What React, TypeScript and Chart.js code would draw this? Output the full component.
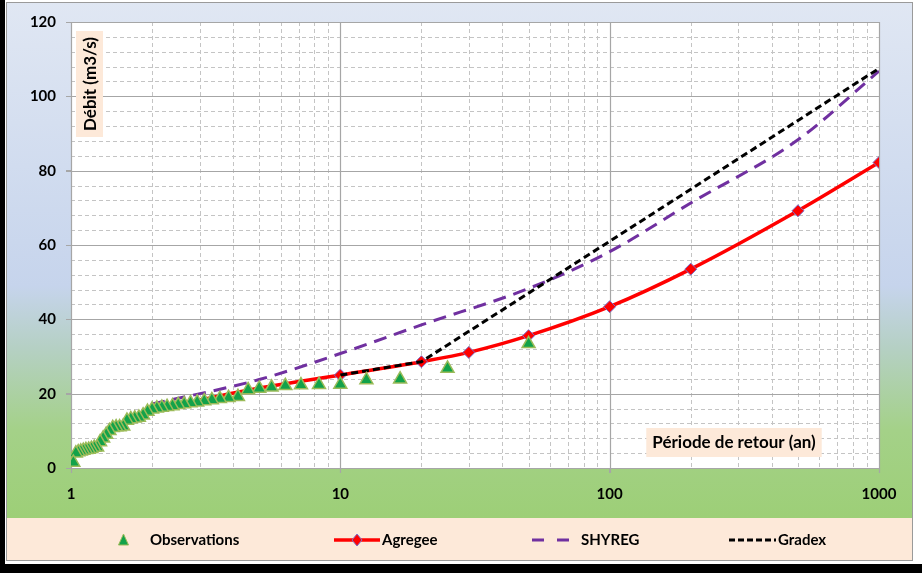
import React, { useEffect, useRef } from "react";
import { Chart, registerables } from "chart.js";

Chart.register(...registerables);

const FONT = "Lato, 'Open Sans', 'DejaVu Sans', sans-serif";

// Observations (return period in years, flow m3/s)
const obsPeriods = [50, 25, 16.667, 12.5, 10, 8.333, 7.143, 6.25, 5.556, 5, 4.545, 4.167, 3.846, 3.571, 3.333, 3.125, 2.941, 2.778, 2.632, 2.5, 2.381, 2.273, 2.174, 2.083, 2, 1.923, 1.852, 1.786, 1.724, 1.667, 1.613, 1.563, 1.515, 1.471, 1.429, 1.389, 1.351, 1.316, 1.282, 1.25, 1.22, 1.19, 1.163, 1.136, 1.111, 1.087, 1.064, 1.042, 1.02];
const obsFlows = [33.4, 26.8, 23.9, 23.7, 22.5, 22.4, 22.3, 22.1, 21.7, 21.4, 21.0, 19.2, 18.9, 18.6, 18.3, 18.0, 17.7, 17.5, 17.2, 17.0, 16.7, 16.5, 16.3, 16.1, 15.8, 15.2, 14.2, 13.6, 13.4, 13.2, 12.8, 11.2, 11.0, 11.0, 10.8, 10.0, 9.0, 8.0, 7.0, 5.6, 5.5, 5.2, 5.0, 4.9, 4.7, 4.5, 4.3, 4.0, 1.5];

const agregeePeriods = [3, 5, 10, 20, 30, 50, 100, 200, 500, 1000];
const agregeeFlows = [18.3, 21.5, 25.0, 28.6, 31.1, 35.6, 43.4, 53.5, 69.2, 82.2];
const agregeeMarkers = [false, false, true, true, true, true, true, true, true, true];

const shyregPeriods = [2, 5, 10, 20, 50, 100, 200, 500, 1000];
const shyregFlows = [17.2, 23.8, 30.8, 38.5, 48.3, 58.2, 71.3, 88.3, 106.8];

const gradexPeriods = [10, 20, 100, 1000];
const gradexFlows = [25.0, 28.6, 61.0, 107.5];

const xTickValues = [1, 10, 100, 1000];
const yTickValues = [0, 20, 40, 60, 80, 100, 120];
const yMinorStep = 4;

const legendLabels = ["Observations", "Agregee", "SHYREG", "Gradex"];
const yTitle = "Débit (m3/s)";
const xTitle = "Période de retour (an)";

const pts = (xs: number[], ys: number[]) => xs.map((x, i) => ({ x, y: ys[i] }));

const backgroundPlugin = {
  id: "bg",
  beforeDraw(chart: any) {
    const { ctx, width, height, chartArea } = chart;
    ctx.save();
    ctx.fillStyle = "#ffffff";
    ctx.fillRect(0, 0, width, height);
    const g = ctx.createLinearGradient(0, 2, 0, 518);
    g.addColorStop(0, "#e0e7f3");
    g.addColorStop(0.55, "#c6d4ec");
    g.addColorStop(0.67, "#b5d0c4");
    g.addColorStop(0.83, "#a4d188");
    g.addColorStop(1, "#9dcf77");
    ctx.fillStyle = g;
    ctx.fillRect(6, 2, 907, 516);
    ctx.fillStyle = "#fde9d9";
    ctx.fillRect(6, 518, 907, 43);
    ctx.strokeStyle = "#9a9a9a";
    ctx.lineWidth = 1;
    ctx.strokeRect(6.5, 2.5, 906, 558);
    ctx.fillStyle = "#000000";
    ctx.fillRect(0, 0, 5, height);
    ctx.fillRect(0, 564, width, height - 564);
    ctx.fillStyle = "#ffffff";
    ctx.fillRect(chartArea.left, chartArea.top, chartArea.right - chartArea.left, chartArea.bottom - chartArea.top);
    ctx.restore();
  },
  beforeDatasetsDraw(chart: any) {
    const { ctx, chartArea } = chart;
    const xs = chart.scales.x;
    const ys = chart.scales.y;
    ctx.save();
    ctx.lineWidth = 1;
    ctx.strokeStyle = "#c4c4c4";
    ctx.setLineDash([4, 3]);
    for (let d = 1; d < 1000; d *= 10) {
      for (let k = 2; k <= 9; k++) {
        const px = Math.round(xs.getPixelForValue(k * d)) + 0.5;
        ctx.beginPath();
        ctx.moveTo(px, chartArea.top);
        ctx.lineTo(px, chartArea.bottom);
        ctx.stroke();
      }
    }
    for (let v = ys.min; v <= ys.max; v += yMinorStep) {
      if (v % 20 === 0) continue;
      const py = Math.round(ys.getPixelForValue(v)) + 0.5;
      ctx.beginPath();
      ctx.moveTo(chartArea.left, py);
      ctx.lineTo(chartArea.right, py);
      ctx.stroke();
    }
    ctx.setLineDash([]);
    ctx.strokeStyle = "#a6a6a6";
    ctx.lineWidth = 1.2;
    xTickValues.forEach((v) => {
      const px = Math.round(xs.getPixelForValue(v)) + 0.5;
      ctx.beginPath();
      ctx.moveTo(px, chartArea.top);
      ctx.lineTo(px, chartArea.bottom + 5);
      ctx.stroke();
    });
    yTickValues.forEach((v) => {
      const py = Math.round(ys.getPixelForValue(v)) + 0.5;
      ctx.beginPath();
      ctx.moveTo(chartArea.left - 5, py);
      ctx.lineTo(chartArea.right, py);
      ctx.stroke();
    });
    ctx.font = `bold 17px ${FONT}`;
    ctx.textAlign = "center";
    ctx.textBaseline = "middle";
    const xw = ctx.measureText(xTitle).width + 12;
    const xcx = 734;
    const xcy = 442;
    ctx.fillStyle = "#fde9d9";
    ctx.fillRect(xcx - xw / 2, xcy - 14, xw, 29);
    ctx.fillStyle = "#000000";
    ctx.fillText(xTitle, xcx, xcy + 1);
    const yw = ctx.measureText(yTitle).width + 12;
    const ycx = 89.5;
    const ycy = 84;
    ctx.fillStyle = "#fde9d9";
    ctx.fillRect(ycx - 13.5, ycy - yw / 2, 27, yw);
    ctx.translate(ycx, ycy);
    ctx.rotate(-Math.PI / 2);
    ctx.fillStyle = "#000000";
    ctx.fillText(yTitle, 0, 1);
    ctx.restore();
  },
  afterDraw(chart: any) {
    const { ctx } = chart;
    const ds = chart.data.datasets;
    const cy = 540;
    ctx.save();
    ctx.font = `bold 15px ${FONT}`;
    ctx.textBaseline = "middle";
    ctx.textAlign = "left";
    const o = ds[0];
    ctx.fillStyle = o.pointBackgroundColor;
    ctx.strokeStyle = o.pointBorderColor;
    ctx.lineWidth = 1;
    ctx.beginPath();
    ctx.moveTo(123.5, cy - 6);
    ctx.lineTo(128.5, cy + 5);
    ctx.lineTo(118.5, cy + 5);
    ctx.closePath();
    ctx.fill();
    ctx.stroke();
    ctx.fillStyle = "#000";
    ctx.fillText(legendLabels[0], 150, cy);
    const a = ds[1];
    ctx.strokeStyle = a.borderColor;
    ctx.lineWidth = a.borderWidth;
    ctx.beginPath();
    ctx.moveTo(334, cy);
    ctx.lineTo(380, cy);
    ctx.stroke();
    ctx.fillStyle = a.pointBackgroundColor;
    ctx.strokeStyle = a.pointBorderColor;
    ctx.lineWidth = 1;
    ctx.beginPath();
    ctx.moveTo(357, cy - 6);
    ctx.lineTo(362, cy);
    ctx.lineTo(357, cy + 6);
    ctx.lineTo(352, cy);
    ctx.closePath();
    ctx.fill();
    ctx.stroke();
    ctx.fillStyle = "#000";
    ctx.fillText(legendLabels[1], 382, cy);
    const s = ds[2];
    ctx.strokeStyle = s.borderColor;
    ctx.lineWidth = s.borderWidth;
    ctx.beginPath();
    ctx.moveTo(532, cy);
    ctx.lineTo(544, cy);
    ctx.moveTo(557, cy);
    ctx.lineTo(569, cy);
    ctx.stroke();
    ctx.fillStyle = "#000";
    ctx.fillText(legendLabels[2], 581, cy);
    const gx = ds[3];
    ctx.strokeStyle = gx.borderColor;
    ctx.lineWidth = gx.borderWidth;
    ctx.setLineDash([6, 3]);
    ctx.beginPath();
    ctx.moveTo(729, cy);
    ctx.lineTo(776, cy);
    ctx.stroke();
    ctx.setLineDash([]);
    ctx.fillStyle = "#000";
    ctx.fillText(legendLabels[3], 778, cy);
    ctx.restore();
  },
};

export default function App() {
  const ref = useRef<HTMLCanvasElement | null>(null);
  useEffect(() => {
    document.body.style.margin = "0";
    const canvas = ref.current!;
    const chart = new Chart(canvas, {
      type: "scatter",
      data: {
        datasets: [
          {
            label: legendLabels[0],
            data: pts(obsPeriods, obsFlows),
            showLine: false,
            pointStyle: "triangle",
            pointRadius: 7.5,
            pointBackgroundColor: "#12a24a",
            pointBorderColor: "#9bbb59",
            pointBorderWidth: 1.5,
            order: 0,
          },
          {
            label: legendLabels[1],
            data: pts(agregeePeriods, agregeeFlows),
            showLine: true,
            borderColor: "#ff0000",
            borderWidth: 3.5,
            pointStyle: "rectRot",
            pointRadius: agregeeMarkers.map((m) => (m ? 6 : 0)),
            pointBackgroundColor: "#ff0000",
            pointBorderColor: "#7b6fc8",
            pointBorderWidth: 1,
            cubicInterpolationMode: "monotone",
            order: 2,
          },
          {
            label: legendLabels[2],
            data: pts(shyregPeriods, shyregFlows),
            showLine: true,
            borderColor: "#7030a0",
            borderWidth: 3,
            borderDash: [13, 8],
            pointRadius: 0,
            cubicInterpolationMode: "monotone",
            order: 3,
          },
          {
            label: legendLabels[3],
            data: pts(gradexPeriods, gradexFlows),
            showLine: true,
            borderColor: "#000000",
            borderWidth: 3,
            borderDash: [7, 4],
            pointRadius: 0,
            order: 1,
          },
        ],
      },
      options: {
        responsive: false,
        animation: false,
        layout: { padding: { top: 22, right: 43, left: 0, bottom: 0 } },
        plugins: { legend: { display: false }, tooltip: { enabled: false } },
        scales: {
          x: {
            type: "logarithmic",
            min: 1,
            max: 1000,
            afterBuildTicks: (scale: any) => {
              scale.ticks = xTickValues.map((v) => ({ value: v }));
            },
            afterFit: (scale: any) => {
              scale.height = 105;
            },
            grid: { drawOnChartArea: false, drawTicks: true, tickLength: 5, color: "#a6a6a6" },
            border: { display: false },
            ticks: {
              autoSkip: false,
              maxRotation: 0,
              padding: 12,
              color: "#000000",
              font: { family: FONT, size: 15, weight: "bold" },
              callback: (v: any) => String(v),
            },
          },
          y: {
            type: "linear",
            min: 0,
            max: 120,
            afterBuildTicks: (scale: any) => {
              scale.ticks = yTickValues.map((v) => ({ value: v }));
            },
            afterFit: (scale: any) => {
              scale.width = 71;
            },
            grid: { drawOnChartArea: false, drawTicks: true, tickLength: 5, color: "#a6a6a6" },
            border: { display: false },
            ticks: {
              padding: 10,
              color: "#000000",
              font: { family: FONT, size: 15, weight: "bold" },
            },
          },
        },
      },
      plugins: [backgroundPlugin],
    } as any);
    return () => chart.destroy();
  }, []);
  return <canvas ref={ref} width={922} height={573} style={{ display: "block" }} />;
}
